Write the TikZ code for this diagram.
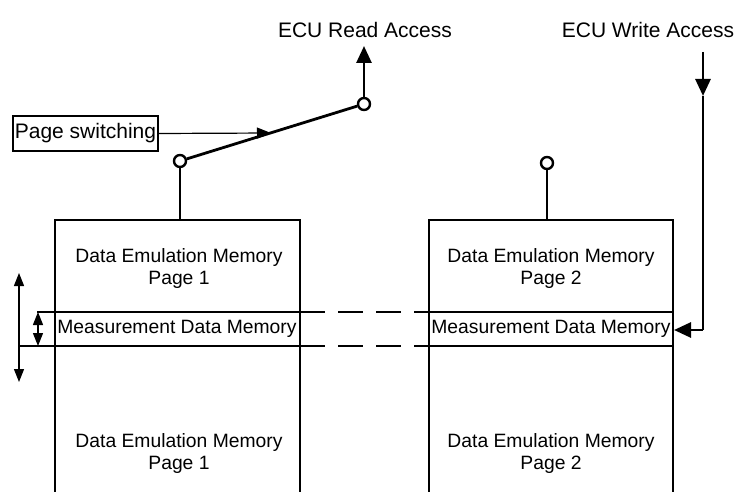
\documentclass[tikz,border=0pt]{standalone}
\usepackage{fontspec}
\setmainfont{Liberation Sans}
\usetikzlibrary{arrows.meta}
\begin{document}
\begin{tikzpicture}[x=1pt,y=-1pt,
  boxline/.style={line width=1.4pt},
  thinline/.style={line width=1.2pt},
  wire/.style={line width=2.8pt},
  wiretip/.style={-{Triangle[length=17pt 0,width=15pt 0]}},
  bothtips/.style={{Triangle[length=13pt 0,width=10pt 0]}-{Triangle[length=13pt 0,width=10pt 0]}},
  memtext/.style={font=\fontsize{19.3}{22}\selectfont, align=center, inner sep=0pt},
  label/.style={font=\fontsize{21}{24}\selectfont, inner sep=0pt},
  contact/.style={circle, draw, line width=2.4pt, minimum size=12pt, inner sep=0pt, fill=white},
  dashline/.style={thinline, dash pattern=on 25pt off 13pt}
]
\useasboundingbox (0,0) rectangle (737,492);

% memory columns (open at bottom)
\coordinate (L1) at (55,492); \coordinate (L2) at (55,220);
\coordinate (L3) at (300,220); \coordinate (L4) at (300,492);
\coordinate (R1) at (429,492); \coordinate (R2) at (429,220);
\coordinate (R3) at (673,220); \coordinate (R4) at (673,492);
\draw[boxline] (L1) -- (L2) -- (L3) -- (L4);
\draw[boxline] (R1) -- (R2) -- (R3) -- (R4);

% measurement band lines
\coordinate (ta) at (37,312); \coordinate (tb) at (55,312);
\coordinate (tc) at (300,312); \coordinate (td) at (429,312); \coordinate (te) at (673,312);
\coordinate (ba) at (18,346); \coordinate (bb) at (55,346);
\coordinate (bc) at (300,346); \coordinate (bd) at (429,346); \coordinate (be) at (673,346);
\draw[thinline] (ta) -- (tc); \draw[dashline] (tc) -- (td); \draw[thinline] (td) -- (te);
\draw[thinline] (ba) -- (bc); \draw[dashline] (bc) -- (bd); \draw[thinline] (bd) -- (be);

% texts
\node[memtext] (dl1) at (179,269) {Data Emulation Memory\\Page 1};
\node[memtext] (dr1) at (551,269) {Data Emulation Memory\\Page 2};
\node[memtext] (ml) at (177,329) {Measurement Data Memory};
\node[memtext] (mr) at (551,329) {Measurement Data Memory};
\node[memtext] (dl2) at (179,454) {Data Emulation Memory\\Page 1};
\node[memtext] (dr2) at (551,454) {Data Emulation Memory\\Page 2};

% size arrows at left
\coordinate (a1) at (19,273); \coordinate (a2) at (19,382);
\draw[thinline,bothtips] (a1) -- (a2);
\coordinate (a3) at (38,312); \coordinate (a4) at (38,346);
\draw[thinline,bothtips] (a3) -- (a4);

% switch
\node[contact] (s1) at (180,161) {};
\node[contact] (s2) at (364,104) {};
\node[contact] (s3) at (547,163) {};
\coordinate (t1) at (180,220); \coordinate (t3) at (547,220);
\draw[wire] (s1) -- (t1);
\draw[wire] (s3) -- (t3);
\draw[wire] (s1) -- (s2);

% read access
\node[label] (rd) at (365,30) {ECU Read Access};
\coordinate (rtip) at (364,46);
\draw[wire,wiretip] (s2) -- (rtip);

% write access
\node[label] (wr) at (648,30) {ECU Write Access};
\coordinate (w0) at (703,52); \coordinate (wm) at (703,96);
\coordinate (w1) at (703,330); \coordinate (w2) at (674,330);
\draw[wire,wiretip] (w0) -- (wm);
\draw[wire] (wm) -- (w1);
\draw[wire,wiretip] (w1) -- (w2);

% page switching
\node[draw, thinline, label, inner sep=1pt, minimum height=35pt, minimum width=145pt] (ps) at (85.5,133.5) {Page switching};
\coordinate (pst) at (271,133);
\draw[thinline,-{Triangle[length=14pt 0,width=11pt 0]}] (ps.east) -- (pst);
\end{tikzpicture}
\end{document}
